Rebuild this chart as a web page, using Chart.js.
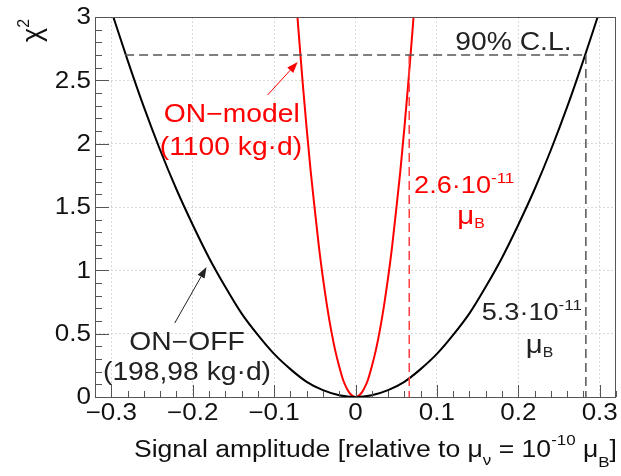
<!DOCTYPE html>
<html>
<head>
<meta charset="utf-8">
<script src="https://cdn.jsdelivr.net/npm/chart.js@4.4.0/dist/chart.umd.min.js"></script>
<style>
  html, body { margin: 0; padding: 0; background: #fff; }
  #wrap { width: 621px; height: 476px; }
</style>
</head>
<body>
<div id="wrap"><canvas id="myChart"></canvas></div>
<script>
// data
const onOffX = [-0.30, -0.28, -0.26, -0.24, -0.22, -0.20, -0.18, -0.16, -0.14, -0.12, -0.10, -0.08, -0.06, -0.04, -0.02, 0,
                0.02, 0.04, 0.06, 0.08, 0.10, 0.12, 0.14, 0.16, 0.18, 0.20, 0.22, 0.24, 0.26, 0.28, 0.30];
const onOffChi2 = [3.05, 2.66, 2.29, 1.95, 1.64, 1.36, 1.10, 0.87, 0.66, 0.49, 0.34, 0.22, 0.12, 0.054, 0.014, 0,
                   0.014, 0.054, 0.12, 0.22, 0.34, 0.49, 0.66, 0.87, 1.10, 1.36, 1.64, 1.95, 2.29, 2.66, 3.05];
const onModelX = [-0.075, -0.07, -0.065, -0.06, -0.055, -0.05, -0.045, -0.04, -0.035, -0.03, -0.025, -0.02, -0.015, -0.01, -0.005, 0,
                  0.005, 0.01, 0.015, 0.02, 0.025, 0.03, 0.035, 0.04, 0.045, 0.05, 0.055, 0.06, 0.065, 0.07, 0.075];
const onModelChi2 = [3.32, 2.89, 2.49, 2.12, 1.78, 1.48, 1.19, 0.94, 0.72, 0.53, 0.37, 0.24, 0.13, 0.06, 0.015, 0,
                     0.015, 0.06, 0.13, 0.24, 0.37, 0.53, 0.72, 0.94, 1.19, 1.48, 1.78, 2.12, 2.49, 2.89, 3.32];
const clLevel = 2.7;
const limitOnOff = 0.283;
const limitOnModel = 0.066;
const xTicks = [-0.3, -0.2, -0.1, 0, 0.1, 0.2, 0.3];
const yTicks = [0, 0.5, 1, 1.5, 2, 2.5, 3];

const toPts = (xs, ys) => xs.map((x, i) => ({ x: x, y: ys[i] }));

const FONT = '"Liberation Sans", Arial, sans-serif';
const SX = 1.13; // the original text is a bit wide

function fmtTick(v) {
    if (v === 0) return '0';
    const s = Math.abs(v).toFixed(1);
    return (v < 0 ? '\u2212' : '') + s;
}

// segments: [text, size, dy]
function rich(ctx, segs, x, y, color, align) {
    ctx.save();
    ctx.fillStyle = color;
    ctx.textBaseline = 'alphabetic';
    ctx.textAlign = 'left';
    let w = 0;
    segs.forEach(s => { ctx.font = s[1] + 'px ' + FONT; w += ctx.measureText(s[0]).width * SX; });
    let cx = align === 'center' ? x - w / 2 : (align === 'right' ? x - w : x);
    segs.forEach(s => {
        ctx.font = s[1] + 'px ' + FONT;
        ctx.save();
        ctx.translate(cx, y + (s[2] || 0));
        ctx.scale(SX, 1);
        ctx.fillText(s[0], 0, 0);
        ctx.restore();
        cx += ctx.measureText(s[0]).width * SX;
    });
    ctx.restore();
}

function arrow(ctx, x1, y1, x2, y2, color) {
    const a = Math.atan2(y2 - y1, x2 - x1);
    const L = 11, W = 4;
    ctx.save();
    ctx.strokeStyle = color;
    ctx.fillStyle = color;
    ctx.lineWidth = 1;
    ctx.beginPath();
    ctx.moveTo(x1, y1);
    ctx.lineTo(x2 - L * Math.cos(a), y2 - L * Math.sin(a));
    ctx.stroke();
    ctx.beginPath();
    ctx.moveTo(x2, y2);
    ctx.lineTo(x2 - L * Math.cos(a) + W * Math.sin(a), y2 - L * Math.sin(a) - W * Math.cos(a));
    ctx.lineTo(x2 - L * Math.cos(a) - W * Math.sin(a), y2 - L * Math.sin(a) + W * Math.cos(a));
    ctx.closePath();
    ctx.fill();
    ctx.restore();
}

// labels placed in data units
const notes = [
    { segs: [['90% C.L.', 25]], x: 0.194, y: 2.74, color: '#222', align: 'center' },
    { segs: [['ON\u2212model', 25]], x: -0.152, y: 2.17, color: '#ff0000', align: 'center' },
    { segs: [['(1100 kg\u00b7d)', 25]], x: -0.153, y: 1.91, color: '#ff0000', align: 'center' },
    { segs: [['2.6\u00b710', 24], ['-11', 15, -10]], x: 0.072, y: 1.61, color: '#ff0000', align: 'left' },
    { segs: [['\u03bc', 26], ['B', 14, 4]], x: 0.142, y: 1.365, color: '#ff0000', align: 'center' },
    { segs: [['5.3\u00b710', 24], ['-11', 15, -10]], x: 0.155, y: 0.608, color: '#222', align: 'left' },
    { segs: [['\u03bc', 26], ['B', 14, 4]], x: 0.226, y: 0.347, color: '#222', align: 'center' },
    { segs: [['ON\u2212OFF', 25]], x: -0.207, y: 0.371, color: '#222', align: 'center' },
    { segs: [['(198,98 kg\u00b7d)', 25]], x: -0.207, y: 0.134, color: '#222', align: 'center' }
];
const arrows = [
    { from: [-0.222, 0.584], to: [-0.183, 1.026], color: '#222' },
    { from: [-0.108, 2.384], to: [-0.071, 2.644], color: '#ff0000' }
];

const decor = {
    id: 'decor',
    afterDraw(chart) {
        const ctx = chart.ctx;
        const xs = chart.scales.x, ys = chart.scales.y;
        const a = chart.chartArea;

        // frame
        ctx.save();
        ctx.strokeStyle = '#555';
        ctx.lineWidth = 1;
        ctx.strokeRect(a.left + 0.5, a.top + 0.5, a.right - a.left - 1, a.bottom - a.top);

        // inward ticks
        ctx.beginPath();
        for (let i = -16; i <= 16; i++) {
            const v = i * 0.02;
            const px = Math.round(xs.getPixelForValue(v)) + 0.5;
            const len = (i % 5 === 0) ? 12 : 6;
            ctx.moveTo(px, a.bottom);
            ctx.lineTo(px, a.bottom - len);
        }
        for (let i = 0; i <= 30; i++) {
            const v = i * 0.1;
            const py = Math.round(ys.getPixelForValue(v)) + 0.5;
            const len = (i % 5 === 0) ? 14 : 7;
            ctx.moveTo(a.left, py);
            ctx.lineTo(a.left + len, py);
        }
        ctx.stroke();
        ctx.restore();

        // tick labels
        ctx.save();
        ctx.textBaseline = 'middle';
        xTicks.forEach(v => {
            ctx.font = '23px ' + FONT;
            ctx.fillStyle = '#111';
            ctx.textAlign = 'center';
            ctx.save();
            ctx.translate(xs.getPixelForValue(v), a.bottom + 17);
            ctx.scale(SX, 1);
            ctx.fillText(fmtTick(v), 0, 0);
            ctx.restore();
        });
        yTicks.forEach(v => {
            ctx.font = '23px ' + FONT;
            ctx.fillStyle = '#111';
            ctx.textAlign = 'right';
            ctx.save();
            ctx.translate(a.left - 4, ys.getPixelForValue(v) + 1);
            ctx.scale(SX, 1);
            ctx.fillText(v === 0 ? '0' : String(v), 0, 0);
            ctx.restore();
        });
        ctx.restore();

        // annotations
        notes.forEach(n => rich(ctx, n.segs, xs.getPixelForValue(n.x), ys.getPixelForValue(n.y), n.color, n.align));
        arrows.forEach(r => arrow(ctx, xs.getPixelForValue(r.from[0]), ys.getPixelForValue(r.from[1]),
                                       xs.getPixelForValue(r.to[0]), ys.getPixelForValue(r.to[1]), r.color));

        // axis titles
        rich(ctx, [['Signal amplitude [relative to \u03bc', 23.5], ['\u03bd', 15, 8], [' = 10', 23.5], ['-10', 15, -12],
                   [' \u03bc', 23.5], ['B', 15, 10], [']', 23.5]], a.right + 1, 457, '#111', 'right');
        ctx.save();
        ctx.translate(41, 42);
        ctx.rotate(-Math.PI / 2);
        ctx.fillStyle = '#111';
        ctx.font = '27px ' + FONT;
        ctx.textAlign = 'left';
        ctx.fillText('\u03c7', 0, 0);
        const w = ctx.measureText('\u03c7').width;
        ctx.font = '16px ' + FONT;
        ctx.fillText('2', w, -12);
        ctx.restore();
    }
};

const ctx = document.getElementById('myChart').getContext('2d');
const myChart = new Chart(ctx, {
    type: 'scatter',
    data: {
        datasets: [
            {
                label: '90% C.L.',
                data: [{ x: -limitOnOff, y: clLevel }, { x: limitOnOff, y: clLevel }],
                showLine: true, borderColor: '#555', borderWidth: 1.5, borderDash: [9, 5], pointRadius: 0
            },
            {
                label: 'limit ON-OFF',
                data: [{ x: limitOnOff, y: clLevel }, { x: limitOnOff, y: 0 }],
                showLine: true, borderColor: '#555', borderWidth: 1.5, borderDash: [9, 5], pointRadius: 0
            },
            {
                label: 'limit ON-model',
                data: [{ x: limitOnModel, y: clLevel }, { x: limitOnModel, y: 0 }],
                showLine: true, borderColor: '#ff4040', borderWidth: 1.5, borderDash: [9, 5], pointRadius: 0
            },
            {
                label: 'ON-OFF',
                data: toPts(onOffX, onOffChi2),
                showLine: true, borderColor: '#000', borderWidth: 2, pointRadius: 0,
                cubicInterpolationMode: 'monotone'
            },
            {
                label: 'ON-model',
                data: toPts(onModelX, onModelChi2),
                showLine: true, borderColor: '#ff0000', borderWidth: 2, pointRadius: 0,
                cubicInterpolationMode: 'monotone'
            }
        ]
    },
    options: {
        responsive: true,
        maintainAspectRatio: false,
        animation: false,
        layout: { padding: { top: 17, right: 5, left: 0, bottom: 0 } },
        plugins: { legend: { display: false }, tooltip: { enabled: false } },
        scales: {
            x: {
                type: 'linear',
                min: -0.32,
                max: 0.32,
                afterBuildTicks: s => { s.ticks = xTicks.map(v => ({ value: v })); },
                afterFit: s => { s.height = 79; },
                ticks: { display: false },
                grid: { color: '#d9d9d9', lineWidth: 1, drawTicks: false },
                border: { display: false, dash: [2, 2] }
            },
            y: {
                min: 0,
                max: 3,
                afterBuildTicks: s => { s.ticks = yTicks.map(v => ({ value: v })); },
                afterFit: s => { s.width = 95; },
                ticks: { display: false },
                grid: { color: '#d9d9d9', lineWidth: 1, drawTicks: false },
                border: { display: false, dash: [2, 2] }
            }
        }
    },
    plugins: [decor]
});
</script>
</body>
</html>
